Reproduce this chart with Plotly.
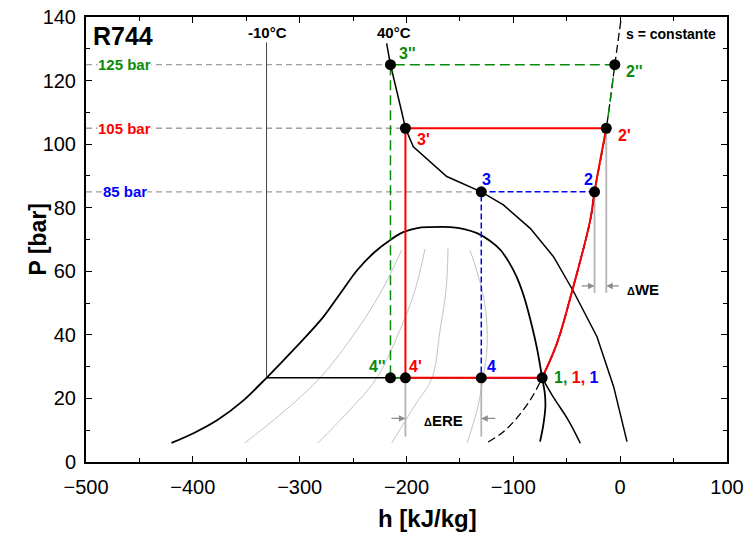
import plotly.graph_objects as go

# ---------------- data (h in kJ/kg, P in bar) ----------------
# saturation dome
dome_h = [-420, -398, -377, -354, -331, -303, -278, -262, -246, -230, -215.5, -203, -190, -178, -159, -146,
          -134, -122, -112, -104, -97, -90, -84, -78, -73, -70.5, -70, -72, -75]
dome_P = [6.0, 9.3, 13.2, 19.0, 26.5, 36.3, 45.6, 53.0, 60.4, 66.0, 69.8, 72.3, 73.6, 73.9, 73.9, 73.3,
          72.0, 69.6, 66.7, 62.8, 58.3, 52.0, 44.7, 36.0, 26.5, 21.5, 17.4, 11.5, 6.4]

# 40 °C isotherm
iso40_h = [-218.6, -215, -204.5, -201, -193.6, -162.3, -130, -109.3, -84.2, -62.4, -43.9, -21.7, -6.1, 6.4]
iso40_P = [131.7, 125, 110.2, 105, 99.2, 89.8, 85, 80.9, 73.5, 64.6, 53.8, 39.4, 23.7, 6.4]

# -10 °C isotherm
isoM10_liq_h = [-331, -331]
isoM10_liq_P = [132, 26.5]
isoM10_two_h = [-331, -73]
isoM10_two_P = [26.5, 26.5]
isoM10_vap_h = [-73, -62.7, -48.6, -37.3]
isoM10_vap_P = [26.5, 20.5, 13.2, 5.9]

# isentrope through state 1
isen_h = [-123.6, -110.8, -98.3, -84.2, -73, -59.2, -45.1, -28, -24, -13, -5, 1]
isen_P = [6.3, 9.1, 13.2, 19.5, 26.5, 37.3, 53.6, 76.1, 85, 105, 125, 139.7]

# light grey curves inside the dome
grey_curves = [
    ([-351.4, -318.6, -281.1, -246.4, -222.9, -204.5], [6.0, 14.8, 26.4, 41.5, 54.1, 66.7]),
    ([-283.0, -253.0, -227.9, -206.1, -192.0, -182.7], [6.0, 16.4, 26.4, 41.5, 54.1, 67.0]),
    ([-213.9, -192.0, -176.1, -168.6, -163.0, -161.1], [6.0, 17.9, 26.4, 41.5, 54.1, 67.3]),
    ([-143.3, -133.9, -128.3, -124.5, -127.3, -140.5], [6.0, 16.4, 26.4, 36.8, 51.0, 66.7]),
]

# cycle states
P_evap = 26.5
h1 = -73
P_high = [125, 105, 85]             # green, red, blue
h2 = [-5, -13, -24]                 # 2'', 2', 2
h3 = [-215, -201, -130]             # 3'', 3', 3
labels2 = ["2''", "2'", "2"]
labels3 = ["3''", "3'", "3"]
labels4 = ["4''", "4'", "4"]
bar_labels = ["125 bar", "105 bar", "85 bar"]
colors = ["#0a8a0a", "#ff0000", "#0000ff"]

FONT = "Liberation Sans, Arial, sans-serif"

fig = go.Figure()

def add_line(x, y, color, width, dash="solid", shape="linear"):
    fig.add_trace(go.Scatter(x=x, y=y, mode="lines",
                             line=dict(color=color, width=width, dash=dash, shape=shape, smoothing=1),
                             hoverinfo="skip", showlegend=False))

# grey dashed reference lines from axis to state 3
for P, h in zip(P_high, h3):
    add_line([-500, h], [P, P], "#a0a0a0", 1.3, "6px,4px")

# grey curves
for gh, gp in grey_curves:
    add_line(gh, gp, "#c4c4c4", 1, shape="spline")

# isentrope (black dashed)
add_line(isen_h, isen_P, "black", 1.3, "8px,4px", shape="spline")

# dome and isotherms
add_line(dome_h, dome_P, "black", 1.8, shape="spline")
add_line(iso40_h, iso40_P, "black", 1.5)
add_line(isoM10_liq_h, isoM10_liq_P, "#444444", 1)
add_line(isoM10_two_h, isoM10_two_P, "black", 1.5)
add_line(isoM10_vap_h, isoM10_vap_P, "black", 1.5, shape="spline")

# delta annotation guide lines
add_line([h2[2], h2[2]], [85, 53.2], "#b4b4b4", 1.8)
add_line([h2[1], h2[1]], [105, 53.2], "#b4b4b4", 1.8)
add_line([h3[1], h3[1]], [P_evap, 8], "#b4b4b4", 1.8)
add_line([h3[2], h3[2]], [P_evap, 8], "#b4b4b4", 1.8)

# cycles: green (dashed), blue (dashed), red (solid)
order = [0, 2, 1]
dashes = {0: "10px,5px", 1: "solid", 2: "6px,3px"}
widths = {0: 1.5, 1: 2, 2: 1.5}
for i in order:
    c = colors[i]
    seg_h = [hh for hh, pp in zip(isen_h, isen_P) if P_evap <= pp <= P_high[i]]
    seg_P = [pp for pp in isen_P if P_evap <= pp <= P_high[i]]
    add_line(seg_h, seg_P, c, widths[i], dashes[i], shape="spline")
    add_line([h2[i], h3[i], h3[i], h1], [P_high[i], P_high[i], P_evap, P_evap], c, widths[i], dashes[i])

# markers
mk_h = [h1] + h2 + h3 + h3
mk_P = [P_evap] + P_high + P_high + [P_evap] * 3
fig.add_trace(go.Scatter(x=mk_h, y=mk_P, mode="markers",
                         marker=dict(color="black", size=11),
                         hoverinfo="skip", showlegend=False))

ann = []
def txt(x, y, s, color="black", size=13, xanchor="center", bg=None):
    d = dict(x=x, y=y, text=s, showarrow=False, xanchor=xanchor, yanchor="middle",
             font=dict(family=FONT, size=size, color=color))
    if bg:
        d["bgcolor"] = bg
        d["borderpad"] = 0
    ann.append(d)

txt(-495, 134, "<b>R744</b>", size=25, xanchor="left")
txt(-330, 135, "<b>-10°C</b>", size=15)
txt(-212, 135, "<b>40°C</b>", size=15)
txt(4, 134.6, "<b>s = constante</b>", size=14, xanchor="left")

lab2_pos = [(3.9, 122.7), (-3.6, 102.6), (-30, 89)]
lab3_pos = [(-209, 128.4), (-192.1, 101.6), (-125.5, 89)]
lab4_pos = [(-226.7, 30.2), (-191.6, 30.2), (-120.3, 30.2)]
for i in range(3):
    xa = "left" if i < 2 else "center"
    txt(lab2_pos[i][0], lab2_pos[i][1], "<b>" + labels2[i] + "</b>", colors[i], 16, xa)
    txt(lab3_pos[i][0], lab3_pos[i][1], "<b>" + labels3[i] + "</b>", colors[i], 16, xa)
    txt(lab4_pos[i][0], lab4_pos[i][1], "<b>" + labels4[i] + "</b>", colors[i], 16, "center")
    txt(-463.5, P_high[i], "<b>" + bar_labels[i] + "</b>", colors[i], 15, "center", bg="white")

txt(-64, 26.7, "<b><span style='color:#0a8a0a'>1, </span><span style='color:#ff0000'>1, </span>"
    "<span style='color:#0000ff'>1</span></b>", size=16, xanchor="left")
txt(-165.8, 13.2, "<b><span style='font-size:11px'>Δ</span>ERE</b>", size=15)
txt(21, 54.4, "<b><span style='font-size:11px'>Δ</span>WE</b>", size=15)

def arrow(x, y, ax, ay):
    ann.append(dict(x=x, y=y, ax=ax, ay=ay, xref="x", yref="y", axref="x", ayref="y",
                    text="", showarrow=True, arrowhead=2, arrowsize=1, arrowwidth=1.3,
                    arrowcolor="#8c8c8c", standoff=0, startstandoff=0))

arrow(h3[1], 13.7, -215.5, 13.7)
arrow(h3[2], 13.7, -115.5, 13.7)
arrow(h2[2], 55.4, -37.4, 55.4)
arrow(h2[1], 55.4, 0.2, 55.4)

# axis titles (placed as paper annotations)
ann.append(dict(x=0.532, y=-0.126, xref="paper", yref="paper", text="<b>h [kJ/kg]</b>",
                showarrow=False, xanchor="center", yanchor="middle",
                font=dict(family=FONT, size=24, color="black")))
ann.append(dict(x=-0.075, y=0.5, xref="paper", yref="paper", text="<b>P [bar]</b>",
                showarrow=False, xanchor="center", yanchor="middle", textangle=-90,
                font=dict(family=FONT, size=23, color="black")))

fig.update_layout(
    width=747, height=534,
    margin=dict(l=86, r=20, t=17, b=72, autoexpand=False),
    paper_bgcolor="white", plot_bgcolor="white",
    font=dict(family=FONT, color="black"),
    annotations=ann,
    showlegend=False,
)
axis_common = dict(showline=True, linewidth=2, linecolor="black", mirror="allticks",
                   ticks="inside", ticklen=6, tickwidth=1, tickcolor="black",
                   showgrid=False, zeroline=False, automargin=False,
                   tickfont=dict(family=FONT, size=20, color="black"))
fig.update_xaxes(range=[-500, 100], dtick=100, tick0=0,
                 minor=dict(ticks="inside", ticklen=4, dtick=50, tick0=0, showgrid=False, tickcolor="black"),
                 ticklabelstandoff=6, **axis_common)
fig.update_yaxes(range=[0, 140], dtick=20, tick0=0,
                 minor=dict(ticks="inside", ticklen=4, dtick=10, tick0=0, showgrid=False, tickcolor="black"),
                 ticklabelstandoff=4, **axis_common)

fig.write_html("out.html")
